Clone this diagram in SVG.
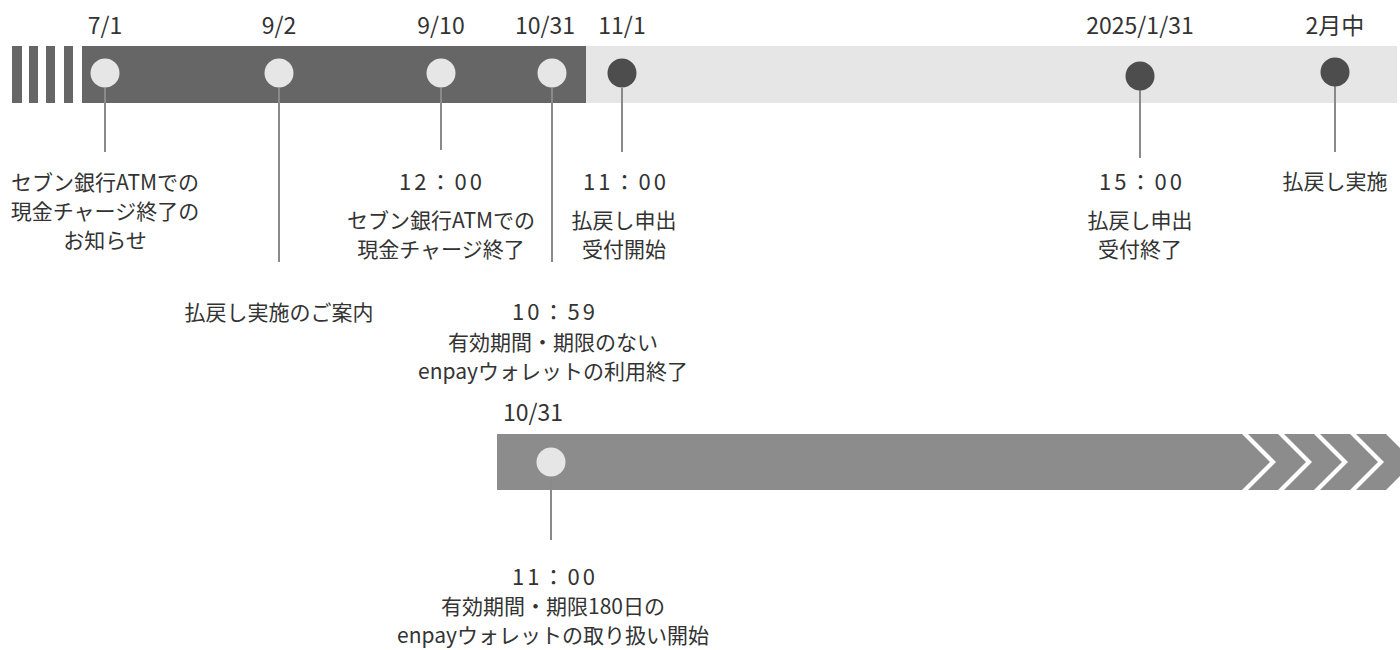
<svg xmlns="http://www.w3.org/2000/svg" width="1400" height="650" viewBox="0 0 1400 650">
<style>
text{font-family:"Noto Sans CJK JP","Noto Sans",sans-serif;font-size:21px;fill:#333;text-anchor:middle}
.date{font-size:23px}
.tm{font-size:22px;letter-spacing:3px}
.lc{fill:#e6e6e6}
.dc{fill:#4d4d4d}
.ln{stroke:#8a8a8a;stroke-width:2;fill:none}
.bar2{fill:#8c8c8c}
</style>
<rect width="1400" height="650" fill="#fff"/>
<g id="top-bar">
<rect x="12" y="46" width="10" height="57" fill="#666"/>
<rect x="29" y="46" width="9" height="57" fill="#666"/>
<rect x="46" y="46" width="9" height="57" fill="#666"/>
<rect x="64" y="46" width="9" height="57" fill="#666"/>
<rect x="586" y="46" width="811" height="57" fill="#e6e6e6"/>
<rect x="82" y="46" width="504" height="57" fill="#666"/>
</g>
<g id="bottom-bar">
<polygon class="bar2" points="497,434 1242,434 1270,462 1242,490 497,490"/>
<polygon class="bar2" points="1248,434 1278,434 1306,462 1278,490 1248,490 1276,462"/>
<polygon class="bar2" points="1284,434 1314,434 1342,462 1314,490 1284,490 1312,462"/>
<polygon class="bar2" points="1320,434 1350,434 1378,462 1350,490 1320,490 1348,462"/>
<polygon class="bar2" points="1356,434 1386,434 1414,462 1386,490 1356,490 1384,462"/>
</g>
<g id="connectors">
<line class="ln" x1="105" y1="88" x2="105" y2="152"/>
<line class="ln" x1="279" y1="88" x2="279" y2="262"/>
<line class="ln" x1="441" y1="88" x2="441" y2="150"/>
<line class="ln" x1="552" y1="88" x2="552" y2="262"/>
<line class="ln" x1="622" y1="88" x2="622" y2="152"/>
<line class="ln" x1="1140" y1="90" x2="1140" y2="158"/>
<line class="ln" x1="1335" y1="86" x2="1335" y2="152"/>
<line class="ln" x1="551" y1="476" x2="551" y2="540"/>
</g>
<g id="n-0701">
<text class="date" x="105" y="34">7/1</text>
<circle class="lc" cx="105" cy="73" r="14.5"/>
<text x="105" y="190">セブン銀行ATMでの</text>
<text x="105" y="219">現金チャージ終了の</text>
<text x="105" y="248">お知らせ</text>
</g>
<g id="n-0902">
<text class="date" x="279" y="34">9/2</text>
<circle class="lc" cx="279" cy="73" r="14.5"/>
<text x="279" y="320">払戻し実施のご案内</text>
</g>
<g id="n-0910">
<text class="date" x="441" y="34">9/10</text>
<circle class="lc" cx="441" cy="73" r="14.5"/>
<text class="tm" x="442" y="190">12：00</text>
<text x="441" y="228">セブン銀行ATMでの</text>
<text x="441" y="257">現金チャージ終了</text>
</g>
<g id="n-1031">
<text class="date" x="545" y="34">10/31</text>
<circle class="lc" cx="552" cy="73" r="14.5"/>
<text class="tm" x="555" y="320">10：59</text>
<text x="553" y="350">有効期間・期限のない</text>
<text x="553" y="379">enpayウォレットの利用終了</text>
</g>
<g id="n-1101">
<text class="date" x="622" y="34">11/1</text>
<circle class="dc" cx="622" cy="73" r="14.5"/>
<text class="tm" x="626" y="190">11：00</text>
<text x="624" y="228">払戻し申出</text>
<text x="624" y="257">受付開始</text>
</g>
<g id="n-20250131">
<text class="date" x="1140" y="34">2025/1/31</text>
<circle class="dc" cx="1140" cy="76" r="14.5"/>
<text class="tm" x="1142" y="190">15：00</text>
<text x="1140" y="228">払戻し申出</text>
<text x="1140" y="257">受付終了</text>
</g>
<g id="n-feb">
<text class="date" x="1335" y="34">2月中</text>
<circle class="dc" cx="1335" cy="72" r="14.5"/>
<text x="1335" y="189">払戻し実施</text>
</g>
<g id="n-1031-bottom">
<text class="date" x="503" y="421" style="text-anchor:start">10/31</text>
<circle class="lc" cx="551" cy="462" r="14.5"/>
<text class="tm" x="555" y="585">11：00</text>
<text x="553" y="614">有効期間・期限180日の</text>
<text x="553" y="643">enpayウォレットの取り扱い開始</text>
</g>
</svg>
